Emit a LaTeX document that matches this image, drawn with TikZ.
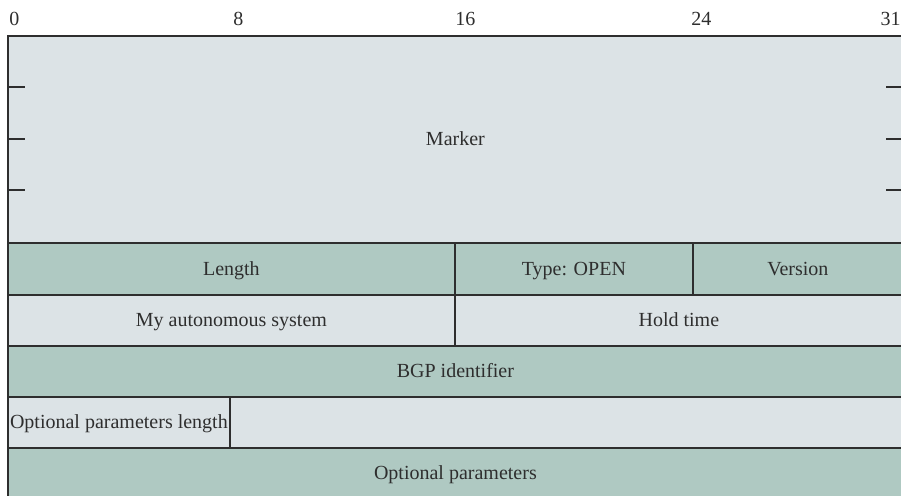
\documentclass[tikz,border=0pt]{standalone}
\usepackage{fontspec}
\setmainfont{Liberation Serif}
\usetikzlibrary{positioning}
\definecolor{hdrgray}{HTML}{DCE3E6}
\definecolor{hdrgreen}{HTML}{AFC9C2}
\definecolor{hdrline}{HTML}{2E2E2E}
\tikzset{
  fld/.style={draw=hdrline, line width=0.9pt, anchor=north west, inner sep=0pt,
              text height=6.8pt, text depth=0.4pt,
              font=\fontsize{10}{12}\selectfont, text=hdrline},
  plainfld/.style={fld, fill=hdrgray},
  tintfld/.style={fld, fill=hdrgreen},
  bitlab/.style={inner sep=0pt, font=\fontsize{10}{12}\selectfont, text=hdrline},
  mtick/.style={draw=hdrline, line width=0.8pt},
}
\begin{document}
\begin{tikzpicture}[x=1pt,y=-1pt]
  \useasboundingbox (0,0) rectangle (450.5,248);
  % bit numbers on top
  \node[bitlab,anchor=base west] (b0)  at (4.5,13)   {0};
  \node[bitlab,anchor=base west] (b8)  at (116.5,13) {8};
  \node[bitlab,anchor=base west] (b16) at (227.5,13) {16};
  \node[bitlab,anchor=base west] (b24) at (345.5,13) {24};
  \node[bitlab,anchor=base east] (b31) at (450.5,13) {31};
  % header rows
  \node[plainfld,minimum width=447.5pt,minimum height=103.5pt] (marker) at (3.5,17.5) {Marker};
  \node[tintfld,minimum width=223.5pt,minimum height=26pt] (len) at (3.5,121) {Length};
  \node[tintfld,minimum width=119pt,minimum height=26pt] (type) at (227,121) {Type: OPEN};
  \node[tintfld,minimum width=105pt,minimum height=26pt] (ver) at (346,121) {Version};
  \node[plainfld,minimum width=223.5pt,minimum height=25.5pt] (myas) at (3.5,147) {My autonomous system};
  \node[plainfld,minimum width=224pt,minimum height=25.5pt] (hold) at (227,147) {Hold time};
  \node[tintfld,minimum width=447.5pt,minimum height=25.5pt] (bgpid) at (3.5,172.5) {BGP identifier};
  \node[plainfld,minimum width=111pt,minimum height=25.5pt] (optlen) at (3.5,198) {Optional parameters length};
  \node[plainfld,minimum width=336.5pt,minimum height=25.5pt] (optgap) at (114.5,198) {};
  \node[tintfld,minimum width=447.5pt,minimum height=25.5pt] (optpar) at (3.5,223.5) {Optional parameters};
  % marker ticks
  \foreach \ty in {43.5,69.5,95}{
    \draw[mtick] (marker.west |- 0,\ty) -- ++(9,0);
    \draw[mtick] (marker.east |- 0,\ty) -- ++(-9,0);
  }
\end{tikzpicture}
\end{document}
